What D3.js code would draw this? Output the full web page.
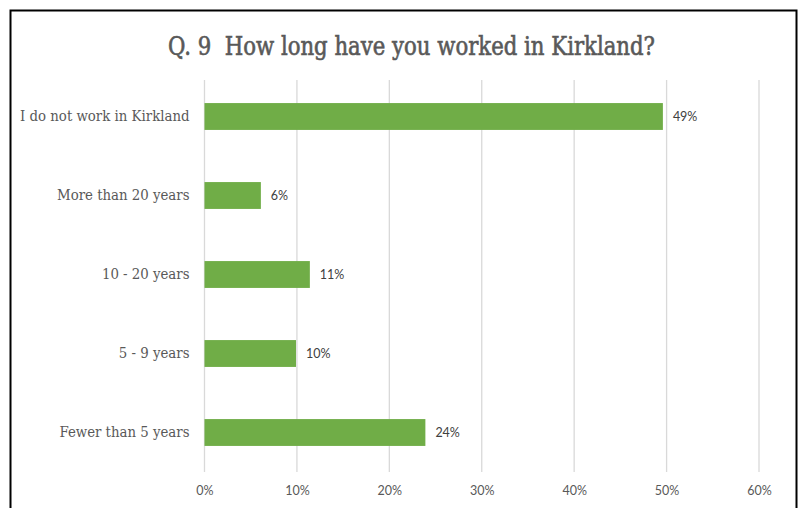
<!DOCTYPE html>
<html>
<head>
<meta charset="utf-8">
<script src="https://cdn.jsdelivr.net/npm/d3@7"></script>
<style>
  body { margin: 0; background: #fff; }
</style>
</head>
<body>
<div id="graph"></div>
<script>
// chart data
var categories = ["I do not work in Kirkland", "More than 20 years", "10 - 20 years", "5 - 9 years", "Fewer than 5 years"];
var values = [49.6, 6.1, 11.4, 9.9, 23.9];
var labels = ["49%", "6%", "11%", "10%", "24%"];
var ticks = [0, 10, 20, 30, 40, 50, 60];
var title = "Q. 9  How long have you worked in Kirkland?";

var W = 805, H = 508;
var slab = "'DejaVu Serif Condensed', 'DejaVu Serif', serif";
var sans = "Lato, 'Open Sans', sans-serif";

var svg = d3.select('#graph').append('svg')
  .attr('width', W).attr('height', H);

// outer frame (no bottom edge visible)
svg.append('path')
  .attr('d', 'M10.5,' + H + 'V10.5H796.5V' + H)
  .attr('fill', 'none').attr('stroke', '#000').attr('stroke-width', 2);

svg.append('text')
  .attr('x', 168).attr('y', 55)
  .attr('textLength', 487).attr('lengthAdjust', 'spacingAndGlyphs')
  .style('white-space', 'pre')
  .style('font-family', slab).style('font-size', '26px')
  .style('fill', '#595959').style('stroke', '#595959').style('stroke-width', 0.6)
  .text(title);

var x = d3.scaleLinear().domain([0, 60]).range([204.5, 759]);
var y = d3.scaleBand().domain(categories).range([77, 472]).paddingInner(0.66).paddingOuter(0.33);

// gridlines
svg.append('g').selectAll('line')
  .data(ticks).enter().append('line')
  .attr('x1', d => x(d)).attr('x2', d => x(d))
  .attr('y1', 80).attr('y2', 472)
  .attr('stroke', '#d9d9d9').attr('stroke-width', 1.3);

// x axis labels
var xAxis = d3.axisBottom(x).tickValues(ticks).tickSize(0).tickPadding(0).tickFormat(d => d + '%');
var gx = svg.append('g').attr('transform', 'translate(0,486)').call(xAxis);
gx.select('.domain').remove();
gx.selectAll('text').style('font-family', sans).style('font-size', '12.5px').style('fill', '#595959');

// category labels
var yAxis = d3.axisLeft(y).tickSize(0).tickPadding(15);
var gy = svg.append('g').attr('transform', 'translate(' + x(0) + ',0)').call(yAxis);
gy.select('.domain').remove();
gy.selectAll('text').style('font-family', slab).style('font-size', '14.8px').style('fill', '#595959');

// bars
svg.append('g').selectAll('rect')
  .data(values).enter().append('rect')
  .attr('x', x(0))
  .attr('y', (d, i) => y(categories[i]))
  .attr('width', d => x(d) - x(0))
  .attr('height', y.bandwidth())
  .attr('fill', '#70ad47');

// value labels
svg.append('g').selectAll('text')
  .data(values).enter().append('text')
  .attr('x', d => x(d) + 10)
  .attr('y', (d, i) => y(categories[i]) + y.bandwidth() / 2)
  .attr('dy', '0.35em')
  .style('font-family', sans).style('font-size', '12.5px').style('fill', '#404040')
  .text((d, i) => labels[i]);
</script>
</body>
</html>
